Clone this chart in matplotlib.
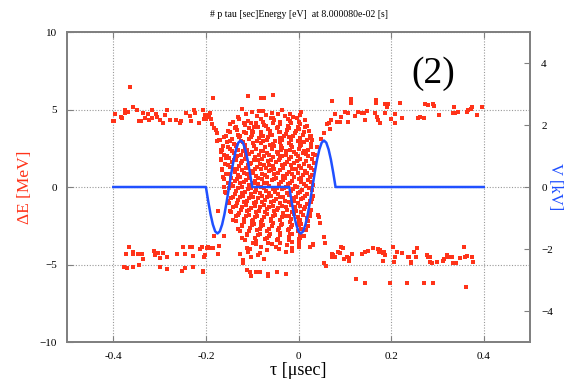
import matplotlib
matplotlib.use("Agg")
import matplotlib.pyplot as plt

# --- particle distribution: tau [usec] vs dE [MeV] ---
# upper-left band
ul_tau = [-0.364, -0.401, -0.398, -0.396, -0.384, -0.382, -0.375, -0.374, -0.368, -0.358,
          -0.348, -0.344, -0.340, -0.335, -0.331, -0.326, -0.322, -0.317, -0.317, -0.308,
          -0.306, -0.299, -0.293, -0.288, -0.283, -0.277, -0.264, -0.257, -0.254, -0.243,
          -0.234, -0.232, -0.225, -0.223, -0.216, -0.207, -0.204, -0.199, -0.197, -0.192,
          -0.189, -0.184, -0.187, -0.182, -0.178, -0.176, -0.171, -0.167, -0.156, -0.202,
          -0.193, -0.175, -0.169]
ul_de = [6.43, 4.28, 4.28, 4.69, 4.50, 4.43, 4.80, 5.00, 4.86, 5.18,
         5.00, 4.26, 4.26, 4.75, 4.43, 4.69, 4.32, 5.00, 4.43, 4.69,
         4.50, 4.32, 4.15, 4.65, 5.00, 4.32, 4.32, 4.15, 4.28, 4.80,
         4.60, 4.28, 5.00, 4.80, 4.11, 5.00, 4.37, 4.37, 4.65, 4.80,
         4.37, 5.76, 4.06, 3.79, 3.68, 2.99, 3.03, 2.39, 1.85, 4.64,
         4.49, 3.50, 3.03]

# upper-right band
ur_tau = [0.072, 0.114, 0.114, 0.167, 0.167, 0.186, 0.193, 0.220, 0.274, 0.280,
          0.290, 0.292, 0.335, 0.375, 0.397, 0.004, 0.004, 0.025, 0.029, 0.010,
          0.014, 0.056, 0.061, 0.065, 0.067, 0.071, 0.079, 0.083, 0.090, 0.092,
          0.101, 0.106, 0.107, 0.123, 0.129, 0.137, 0.142, 0.144, 0.148, 0.166,
          0.170, 0.172, 0.177, 0.186, 0.192, 0.200, 0.208, 0.209, 0.224, 0.259,
          0.263, 0.272, 0.303, 0.334, 0.339, 0.344, 0.363, 0.367, 0.372, 0.386,
          0.040, 0.036, 0.048]
ur_de = [5.55, 5.66, 5.44, 5.61, 5.44, 5.33, 5.33, 5.44, 5.33, 5.27,
         5.35, 5.25, 5.14, 5.18, 5.14, 3.18, 2.92, 3.29, 3.03, 2.17,
         2.20, 3.50, 4.06, 4.10, 3.76, 4.32, 4.71, 4.21, 4.21, 4.54,
         4.86, 4.75, 4.19, 4.58, 4.86, 4.80, 4.75, 4.32, 4.92, 4.75,
         4.54, 4.32, 4.15, 4.75, 5.18, 4.37, 4.71, 4.11, 4.43, 4.47,
         4.50, 4.43, 4.65, 4.80, 4.80, 4.86, 4.86, 4.97, 5.01, 4.65,
         2.60, 2.05, 3.10]

# stragglers above / below the bunch core
top_tau = [-0.109, -0.081, -0.074, -0.055, -0.100, -0.086, 0.006]
top_de = [5.87, 5.74, 5.74, 5.91, 4.82, 4.92, 4.86]
bot_tau = [-0.111, -0.104, -0.102, -0.092, -0.084, -0.065, -0.065, -0.046, -0.027, -0.119,
           -0.109, -0.102, -0.087, -0.074, -0.126, -0.120, -0.014, 0.002, 0.002, 0.025,
           0.032]
bot_de = [-5.35, -5.50, -5.77, -5.50, -5.50, -5.62, -5.77, -5.50, -5.62, -4.92,
          -4.17, -4.50, -4.39, -4.65, -4.32, -4.70, -4.11, -3.90, -3.60, -3.85,
          -3.74]

# lower-left band
ll_tau = [-0.377, -0.371, -0.373, -0.367, -0.358, -0.357, -0.358, -0.346, -0.344, -0.339,
          -0.336, -0.313, -0.310, -0.303, -0.300, -0.299, -0.292, -0.285, -0.283, -0.263,
          -0.252, -0.245, -0.249, -0.245, -0.234, -0.230, -0.227, -0.227, -0.213, -0.207,
          -0.204, -0.202, -0.198, -0.191, -0.184, -0.174, -0.171, -0.173, -0.182, -0.160,
          -0.207, -0.209, -0.196]
ll_de = [-5.18, -5.25, -4.34, -3.85, -4.17, -4.32, -5.14, -4.34, -5.03, -4.34,
         -4.64, -4.13, -4.39, -4.28, -4.60, -5.18, -4.28, -4.50, -5.31, -4.34,
         -5.40, -5.25, -3.85, -4.34, -3.85, -3.89, -4.45, -5.18, -4.02, -5.42,
         -4.54, -4.39, -3.96, -3.96, -3.91, -4.32, -3.81, -1.53, -3.16, -3.16,
         -5.46, -3.90, -3.90]

# lower-right band
lr_tau = [0.025, 0.032, 0.043, 0.045, 0.047, 0.054, 0.058, 0.056, 0.059, 0.072,
          0.074, 0.072, 0.078, 0.085, 0.090, 0.092, 0.096, 0.099, 0.104, 0.108,
          0.110, 0.115, 0.125, 0.137, 0.144, 0.151, 0.144, 0.161, 0.171, 0.173,
          0.177, 0.183, 0.185, 0.187, 0.183, 0.198, 0.204, 0.208, 0.213, 0.207,
          0.224, 0.234, 0.236, 0.238, 0.242, 0.244, 0.250, 0.256, 0.253, 0.270,
          0.278, 0.280, 0.285, 0.283, 0.288, 0.290, 0.300, 0.312, 0.314, 0.321,
          0.323, 0.332, 0.334, 0.336, 0.341, 0.348, 0.357, 0.360, 0.364, 0.362,
          0.375, 0.377]
lr_de = [-3.85, -3.70, -1.81, -1.91, -2.30, -3.20, -3.59, -4.88, -5.10, -4.32,
         -4.39, -4.54, -4.54, -4.17, -4.28, -3.85, -3.96, -4.67, -4.54, -4.75,
         -4.56, -4.32, -5.96, -4.32, -4.17, -4.11, -6.21, -3.96, -4.02, -4.17,
         -4.06, -4.28, -4.17, -4.39, -4.75, -6.21, -3.85, -4.50, -4.17, -4.82,
         -4.28, -6.21, -4.50, -4.50, -4.82, -4.88, -4.17, -3.96, -4.50, -6.21,
         -4.39, -4.54, -4.50, -4.82, -4.88, -6.17, -4.82, -4.78, -4.65, -4.39,
         -4.50, -4.50, -4.88, -4.88, -4.93, -4.60, -3.85, -4.54, -4.45, -6.43,
         -4.54, -4.86]

# bunch core, read row by row from the top
cloud_tau = [
    -0.121, -0.100, -0.077, -0.058, -0.036,
    -0.131, -0.113, -0.090, -0.071, -0.056, -0.044, -0.029, -0.018, -0.011, 0.004,
    -0.141, -0.128, -0.110, -0.103, -0.082, -0.076, -0.059, -0.052, -0.040, -0.023, -0.019, -0.004, 0.001, 0.013,
    -0.148, -0.136, -0.118, -0.115, -0.097, -0.092, -0.075, -0.071, -0.055, -0.044, -0.039, -0.022, -0.017, -0.001, 0.004, 0.018,
    -0.153, -0.138, -0.132, -0.117, -0.106, -0.101, -0.087, -0.082, -0.066, -0.061, -0.046, -0.041, -0.025, -0.021, -0.005, 0.001, 0.014, 0.023,
    -0.157, -0.149, -0.131, -0.127, -0.113, -0.101, -0.098, -0.081, -0.077, -0.062, -0.057, -0.043, -0.031, -0.027, -0.011, -0.008, 0.009, 0.012, 0.027,
    -0.161, -0.147, -0.143, -0.128, -0.124, -0.108, -0.103, -0.089, -0.085, -0.068, -0.065, -0.050, -0.039, -0.036, -0.020, -0.016, -0.001, 0.003, 0.019, 0.024,
    -0.164, -0.155, -0.140, -0.135, -0.119, -0.115, -0.099, -0.096, -0.080, -0.076, -0.061, -0.056, -0.040, -0.038, -0.021, -0.017, -0.002, 0.006, 0.011, 0.027,
    -0.166, -0.153, -0.149, -0.134, -0.130, -0.115, -0.111, -0.096, -0.092, -0.077, -0.073, -0.057, -0.054, -0.038, -0.035, -0.019, -0.015, 0.000, 0.004, 0.020, 0.026,
    -0.167, -0.160, -0.144, -0.139, -0.125, -0.120, -0.106, -0.101, -0.085, -0.082, -0.068, -0.064, -0.047, -0.045, -0.028, -0.026, -0.010, -0.005, 0.011, 0.016, 0.031,
    -0.168, -0.155, -0.151, -0.135, -0.132, -0.116, -0.113, -0.097, -0.094, -0.078, -0.075, -0.059, -0.055, -0.040, -0.036, -0.021, -0.017, -0.001, 0.003, 0.021, 0.029,
    -0.167, -0.159, -0.143, -0.140, -0.124, -0.121, -0.104, -0.102, -0.087, -0.083, -0.066, -0.064, -0.048, -0.043, -0.029, -0.024, -0.009, -0.004, 0.011, 0.016, 0.033,
    -0.166, -0.152, -0.148, -0.133, -0.129, -0.113, -0.109, -0.094, -0.090, -0.075, -0.071, -0.055, -0.052, -0.036, -0.033, -0.017, -0.013, 0.002, 0.006, 0.023, 0.028,
    -0.165, -0.157, -0.141, -0.138, -0.122, -0.117, -0.102, -0.099, -0.082, -0.079, -0.063, -0.060, -0.044, -0.041, -0.025, -0.021, -0.006, -0.002, 0.014, 0.018, 0.033,
    -0.164, -0.150, -0.146, -0.130, -0.127, -0.112, -0.107, -0.091, -0.087, -0.072, -0.068, -0.053, -0.048, -0.033, -0.030, -0.014, -0.010, 0.005, 0.009, 0.024, 0.029,
    -0.162, -0.153, -0.137, -0.133, -0.117, -0.113, -0.097, -0.094, -0.078, -0.074, -0.058, -0.054, -0.038, -0.034, -0.019, -0.015, 0.001, 0.005, 0.021, 0.028,
    -0.161, -0.146, -0.142, -0.126, -0.122, -0.106, -0.102, -0.087, -0.082, -0.067, -0.063, -0.047, -0.043, -0.027, -0.023, -0.008, -0.004, 0.012, 0.016, 0.031,
    -0.159, -0.151, -0.135, -0.131, -0.115, -0.110, -0.095, -0.091, -0.075, -0.071, -0.055, -0.051, -0.035, -0.032, -0.016, -0.012, 0.004, 0.008, 0.023, 0.030,
    -0.156, -0.141, -0.138, -0.122, -0.119, -0.103, -0.099, -0.083, -0.079, -0.064, -0.060, -0.044, -0.040, -0.025, -0.021, -0.005, -0.001, 0.014, 0.018, 0.031,
    -0.153, -0.146, -0.130, -0.127, -0.111, -0.108, -0.092, -0.088, -0.072, -0.068, -0.052, -0.049, -0.033, -0.029, -0.013, -0.009, 0.006, 0.010, 0.025, 0.029,
    -0.151, -0.136, -0.133, -0.117, -0.114, -0.097, -0.094, -0.078, -0.075, -0.059, -0.055, -0.039, -0.036, -0.020, -0.016, -0.001, 0.003, 0.019, 0.028,
    -0.149, -0.141, -0.125, -0.122, -0.106, -0.102, -0.086, -0.083, -0.067, -0.063, -0.047, -0.044, -0.028, -0.024, -0.008, -0.005, 0.011, 0.015, 0.027,
    -0.146, -0.131, -0.128, -0.112, -0.108, -0.092, -0.089, -0.072, -0.069, -0.053, -0.050, -0.034, -0.030, -0.014, -0.010, 0.005, 0.010, 0.025,
    -0.141, -0.134, -0.118, -0.114, -0.098, -0.095, -0.079, -0.075, -0.059, -0.056, -0.040, -0.036, -0.020, -0.017, -0.001, 0.003, 0.018, 0.024,
    -0.136, -0.121, -0.117, -0.100, -0.096, -0.080, -0.076, -0.059, -0.055, -0.039, -0.035, -0.018, -0.014, 0.002, 0.006, 0.021,
    -0.131, -0.122, -0.105, -0.101, -0.084, -0.080, -0.063, -0.058, -0.042, -0.037, -0.021, -0.016, 0.000, 0.005, 0.020,
    -0.126, -0.111, -0.106, -0.089, -0.084, -0.067, -0.062, -0.045, -0.040, -0.023, -0.018, -0.001, 0.003, 0.016,
    -0.121, -0.111, -0.093, -0.087, -0.069, -0.063, -0.045, -0.039, -0.021, -0.015, 0.003, 0.011,
    -0.116, -0.098, -0.092, -0.072, -0.066, -0.047, -0.041, -0.021, -0.015, 0.002,
    -0.111, -0.091, -0.081, -0.058, -0.048, -0.025, -0.014,
    -0.105, -0.083, -0.069, -0.043, -0.027,
]
cloud_de = [
    5.02, 4.81, 4.93, 4.76, 4.99,
    4.49, 4.72, 4.58, 4.66, 4.47, 4.74, 4.55, 4.70, 4.51, 4.62,
    4.19, 4.41, 4.28, 4.16, 4.37, 4.22, 4.44, 4.31, 4.18, 4.39, 4.25, 4.45, 4.20, 4.33,
    4.08, 3.88, 4.13, 3.97, 3.86, 4.11, 4.02, 3.91, 4.14, 3.87, 4.05, 3.93, 4.12, 3.85, 4.06, 3.96,
    3.61, 3.82, 3.69, 3.57, 3.79, 3.64, 3.84, 3.58, 3.73, 3.62, 3.81, 3.56, 3.67, 3.83, 3.59, 3.76, 3.85, 3.63,
    3.29, 3.52, 3.38, 3.26, 3.47, 3.33, 3.54, 3.41, 3.27, 3.49, 3.35, 3.55, 3.30, 3.44, 3.28, 3.51, 3.37, 3.53, 3.31,
    3.21, 2.98, 3.12, 3.24, 2.97, 3.08, 3.23, 2.99, 3.16, 3.03, 3.25, 2.96, 3.14, 3.02, 3.22, 3.06, 2.95, 3.19, 3.01, 3.15,
    2.66, 2.91, 2.77, 2.68, 2.93, 2.71, 2.86, 2.65, 2.82, 2.94, 2.69, 2.79, 2.92, 2.67, 2.84, 2.73, 2.95, 2.70, 2.88, 2.75,
    2.37, 2.61, 2.45, 2.63, 2.38, 2.56, 2.41, 2.64, 2.48, 2.35, 2.59, 2.43, 2.62, 2.39, 2.54, 2.36, 2.60, 2.46, 2.65, 2.40, 2.55,
    2.29, 2.08, 2.33, 2.17, 2.06, 2.31, 2.12, 2.27, 2.09, 2.35, 2.19, 2.05, 2.28, 2.14, 2.34, 2.07, 2.24, 2.11, 2.32, 2.16, 2.10,
    1.79, 2.02, 1.86, 1.76, 1.98, 1.83, 2.04, 1.77, 1.93, 1.80, 2.01, 1.75, 1.95, 1.84, 2.03, 1.78, 1.91, 2.00, 1.82, 1.97, 1.81,
    1.72, 1.49, 1.63, 1.74, 1.52, 1.68, 1.46, 1.57, 1.73, 1.50, 1.66, 1.45, 1.61, 1.75, 1.48, 1.64, 1.53, 1.71, 1.47, 1.69, 1.55,
    1.19, 1.41, 1.26, 1.16, 1.37, 1.22, 1.43, 1.17, 1.31, 1.44, 1.21, 1.35, 1.18, 1.39, 1.24, 1.42, 1.15, 1.33, 1.20, 1.36, 1.25,
    1.08, 0.87, 1.13, 0.95, 1.11, 0.89, 1.04, 0.92, 1.14, 0.86, 1.02, 1.12, 0.90, 1.07, 0.85, 1.00, 1.13, 0.88, 1.06, 0.93, 1.10,
    0.62, 0.82, 0.57, 0.76, 0.64, 0.84, 0.58, 0.73, 0.56, 0.79, 0.66, 0.83, 0.60, 0.74, 0.55, 0.81, 0.67, 0.59, 0.78, 0.63, 0.80,
    0.49, 0.27, 0.42, 0.53, 0.31, 0.46, 0.26, 0.37, 0.51, 0.29, 0.44, 0.54, 0.33, 0.48, 0.25, 0.40, 0.52, 0.30, 0.45, 0.35,
    -0.03, 0.21, 0.06, 0.24, -0.02, 0.14, -0.05, 0.19, 0.03, 0.25, 0.09, -0.04, 0.17, 0.01, 0.22, 0.07, -0.01, 0.20, 0.04, 0.13,
    -0.32, -0.09, -0.24, -0.07, -0.29, -0.13, -0.34, -0.18, -0.08, -0.27, -0.11, -0.33, -0.16, -0.06, -0.26, -0.10, -0.31, -0.21, -0.05, -0.20,
    -0.41, -0.63, -0.46, -0.37, -0.60, -0.44, -0.64, -0.39, -0.55, -0.36, -0.58, -0.43, -0.62, -0.38, -0.53, -0.65, -0.40, -0.57, -0.45, -0.61,
    -0.92, -0.68, -0.86, -0.66, -0.89, -0.73, -0.94, -0.70, -0.84, -0.67, -0.91, -0.76, -0.65, -0.88, -0.71, -0.93, -0.79, -0.69, -0.90, -0.75,
    -1.01, -1.22, -1.06, -0.97, -1.19, -1.03, -1.24, -0.99, -1.14, -0.96, -1.21, -1.05, -1.25, -0.98, -1.16, -1.02, -1.23, -1.08, -0.96,
    -1.52, -1.29, -1.46, -1.27, -1.50, -1.33, -1.54, -1.31, -1.44, -1.26, -1.51, -1.36, -1.28, -1.48, -1.32, -1.53, -1.39, -1.30, -1.49,
    -1.61, -1.83, -1.66, -1.57, -1.80, -1.63, -1.84, -1.59, -1.74, -1.56, -1.81, -1.65, -1.85, -1.58, -1.77, -1.62, -1.82, -1.69,
    -2.12, -1.89, -2.06, -1.87, -2.10, -1.93, -2.14, -1.91, -2.04, -1.86, -2.11, -1.96, -1.88, -2.08, -1.92, -2.13, -1.99, -1.90,
    -2.21, -2.43, -2.26, -2.17, -2.40, -2.23, -2.44, -2.19, -2.34, -2.16, -2.41, -2.25, -2.45, -2.18, -2.37, -2.22,
    -2.72, -2.49, -2.66, -2.47, -2.70, -2.53, -2.74, -2.51, -2.64, -2.46, -2.71, -2.56, -2.48, -2.68, -2.52,
    -2.81, -3.03, -2.86, -2.77, -3.00, -2.83, -3.04, -2.79, -2.94, -2.76, -3.01, -2.85, -3.05, -2.78,
    -3.32, -3.09, -3.26, -3.07, -3.30, -3.13, -3.34, -3.11, -3.24, -3.06, -3.31, -3.16,
    -3.41, -3.63, -3.46, -3.37, -3.60, -3.43, -3.64, -3.39, -3.54, -3.36,
    -3.91, -3.68, -3.86, -3.67, -3.90, -3.73, -3.94,
    -4.01, -4.23, -4.06, -3.97, -4.20,
]

# --- RF voltage [kV] ---
volt_tau = [-0.4, -0.2, -0.195, -0.19, -0.185, -0.18, -0.175, -0.17, -0.165, -0.16, -0.155,
            -0.15, -0.145, -0.14, -0.135, -0.13, -0.125, -0.12, -0.115, -0.11, -0.105, -0.1,
            -0.02, -0.015, -0.01, -0.005, 0.0, 0.005, 0.01, 0.015, 0.02, 0.025,
            0.03, 0.035, 0.04, 0.045, 0.05, 0.055, 0.06, 0.065, 0.07, 0.075, 0.08, 0.4]
volt = [0, 0, -0.46, -0.88, -1.21, -1.43, -1.5, -1.43, -1.21, -0.88, -0.46,
        0, 0.46, 0.88, 1.21, 1.43, 1.5, 1.43, 1.21, 0.88, 0.46, 0,
        0, -0.46, -0.88, -1.21, -1.43, -1.5, -1.43, -1.21, -0.88, -0.46,
        0, 0.46, 0.88, 1.21, 1.43, 1.5, 1.43, 1.21, 0.88, 0.46, 0, 0]

RED = '#ff3319'
BLUE = '#2050ff'
FRAME = '#808080'

plt.rcParams['font.family'] = ['Liberation Serif', 'DejaVu Serif']

fig = plt.figure(figsize=(5.65, 3.89), dpi=100)
ax = fig.add_axes([0.1186, 0.1208, 0.8195, 0.7969])

all_tau = ul_tau + ur_tau + top_tau + bot_tau + ll_tau + lr_tau + cloud_tau
all_de = ul_de + ur_de + top_de + bot_de + ll_de + lr_de + cloud_de
ax.plot(all_tau, all_de, 's', ms=2.6, mew=0, color=RED, zorder=3)

ax.set_xlim(-0.5, 0.5)
ax.set_ylim(-10, 10)
ax.set_xticks([-0.4, -0.2, 0, 0.2, 0.4])
ax.set_xticklabels(['-0.4', '-0.2', '0', '0.2', '0.4'])
ax.set_yticks([-10, -5, 0, 5, 10])
ax.grid(True, color='#999999', lw=0.8, ls=(0, (1, 1.5)))
ax.tick_params(direction='in', length=4, width=0.8, color=FRAME, labelsize=8,
               top=True, pad=7)
ax.set_xlabel('τ [μsec]', fontsize=13, labelpad=1)
ax.set_ylabel('ΔE [MeV]', fontsize=12.5, color=RED, labelpad=5)
ax.set_title('# p tau [sec]Energy [eV]  at 8.000080e-02 [s]', fontsize=7, pad=11)
ax.text(0.29, 7.3, '(2)', fontsize=27, ha='center', va='center')

ax2 = ax.twinx()
ax2.plot(volt_tau, volt, '-', color=BLUE, lw=1.8, zorder=4)
ax2.set_ylim(-5, 5)
ax2.set_yticks([-4, -2, 0, 2, 4])
ax2.tick_params(direction='in', length=4, width=0.8, color=FRAME, labelsize=8, pad=8)
ax2.set_ylabel('V [kV]', fontsize=12, color=BLUE, rotation=270)
ax2.yaxis.set_label_coords(1.072, 0.5)

for a in (ax, ax2):
    for s in a.spines.values():
        s.set_color(FRAME)
        s.set_linewidth(1.3)

fig.savefig('out.png', dpi=100)
